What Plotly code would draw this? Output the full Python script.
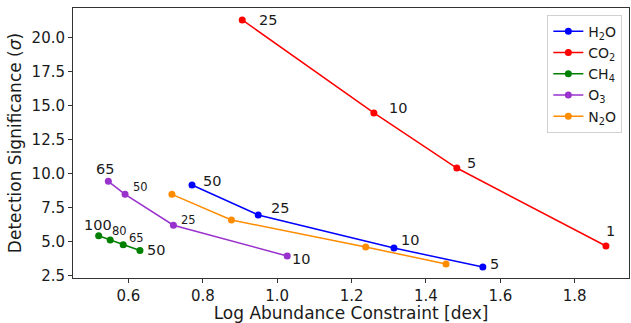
import plotly.graph_objects as go

# data
h2o_x = [0.771, 0.949, 1.314, 1.553]
h2o_y = [9.16, 6.95, 4.51, 3.11]
h2o_lab = ["50", "25", "10", "5"]

co2_x = [0.906, 1.260, 1.483, 1.884]
co2_y = [21.33, 14.47, 10.41, 4.66]
co2_lab = ["25", "10", "5", "1"]

ch4_x = [0.520, 0.551, 0.586, 0.631]
ch4_y = [5.42, 5.10, 4.76, 4.33]
ch4_lab = ["100", "80", "65", "50"]

o3_x = [0.546, 0.591, 0.721, 1.027]
o3_y = [9.43, 8.47, 6.19, 3.92]
o3_lab = ["65", "50", "25", "10"]

n2o_x = [0.717, 0.877, 1.238, 1.454]
n2o_y = [8.47, 6.58, 4.58, 3.34]

series = [
    ("H<sub>2</sub>O", h2o_x, h2o_y, "#0000ff"),
    ("CO<sub>2</sub>", co2_x, co2_y, "#ff0000"),
    ("CH<sub>4</sub>", ch4_x, ch4_y, "#008000"),
    ("O<sub>3</sub>", o3_x, o3_y, "#9932cc"),
    ("N<sub>2</sub>O", n2o_x, n2o_y, "#ff8c00"),
]

fig = go.Figure()
for name, xs, ys, col in series:
    fig.add_trace(go.Scatter(x=xs, y=ys, mode="lines+markers", name=name,
                             line=dict(color=col, width=1.5),
                             marker=dict(color=col, size=7)))

# label offsets (px) and font sizes
label_specs = [
    (co2_x, co2_y, co2_lab, [(26, 0), (24, 5), (15, 5), (5, 15)], [14.5, 14.5, 14.5, 14.5]),
    (h2o_x, h2o_y, h2o_lab, [(20, 4), (22, 7), (16, 8), (12, 3)], [14.5, 14.5, 14.5, 14.5]),
    (o3_x, o3_y, o3_lab, [(-3, 12), (15, 7), (15, 5), (14, -3)], [14.5, 11.5, 11.5, 14.5]),
    (ch4_x, ch4_y, ch4_lab, [(-1, 11), (9, 9), (13, 7), (16, 0)], [14.5, 11.5, 11.5, 14.5]),
]
for xs, ys, labs, offs, sizes in label_specs:
    for x, y, t, (dx, dy), s in zip(xs, ys, labs, offs, sizes):
        fig.add_annotation(x=x, y=y, text=t, showarrow=False, xshift=dx, yshift=dy,
                           font=dict(size=s, color="#1a1a1a", family="DejaVu Sans"))

fig.update_layout(
    width=631, height=323,
    margin=dict(l=73, r=2, t=8, b=45),
    paper_bgcolor="white", plot_bgcolor="white",
    font=dict(family="DejaVu Sans", size=14, color="#1a1a1a"),
    legend=dict(x=0.988, y=0.975, xanchor="right", yanchor="top",
                bgcolor="white", bordercolor="#d0d0d0", borderwidth=1,
                font=dict(size=14), tracegroupgap=0, itemwidth=30),
    showlegend=True,
)
fig.update_xaxes(range=[0.451, 1.946], tickvals=[0.6, 0.8, 1.0, 1.2, 1.4, 1.6, 1.8],
                 ticktext=["0.6", "0.8", "1.0", "1.2", "1.4", "1.6", "1.8"],
                 ticks="outside", ticklen=4, tickcolor="#333", showgrid=False, zeroline=False,
                 showline=True, linecolor="#333", linewidth=1, mirror=True,
                 title=dict(text="Log Abundance Constraint [dex]", font=dict(size=17), standoff=5),
                 tickfont=dict(size=15))
fig.update_yaxes(range=[2.3, 22.21], tickvals=[2.5, 5, 7.5, 10, 12.5, 15, 17.5, 20],
                 ticktext=["2.5", "5.0", "7.5", "10.0", "12.5", "15.0", "17.5", "20.0"],
                 ticks="outside", ticklen=4, tickcolor="#333", showgrid=False, zeroline=False,
                 showline=True, linecolor="#333", linewidth=1, mirror=True,
                 title=dict(text="Detection Significance (<i>σ</i>)", font=dict(size=17), standoff=5),
                 tickfont=dict(size=15))

fig.write_html("out.html")
